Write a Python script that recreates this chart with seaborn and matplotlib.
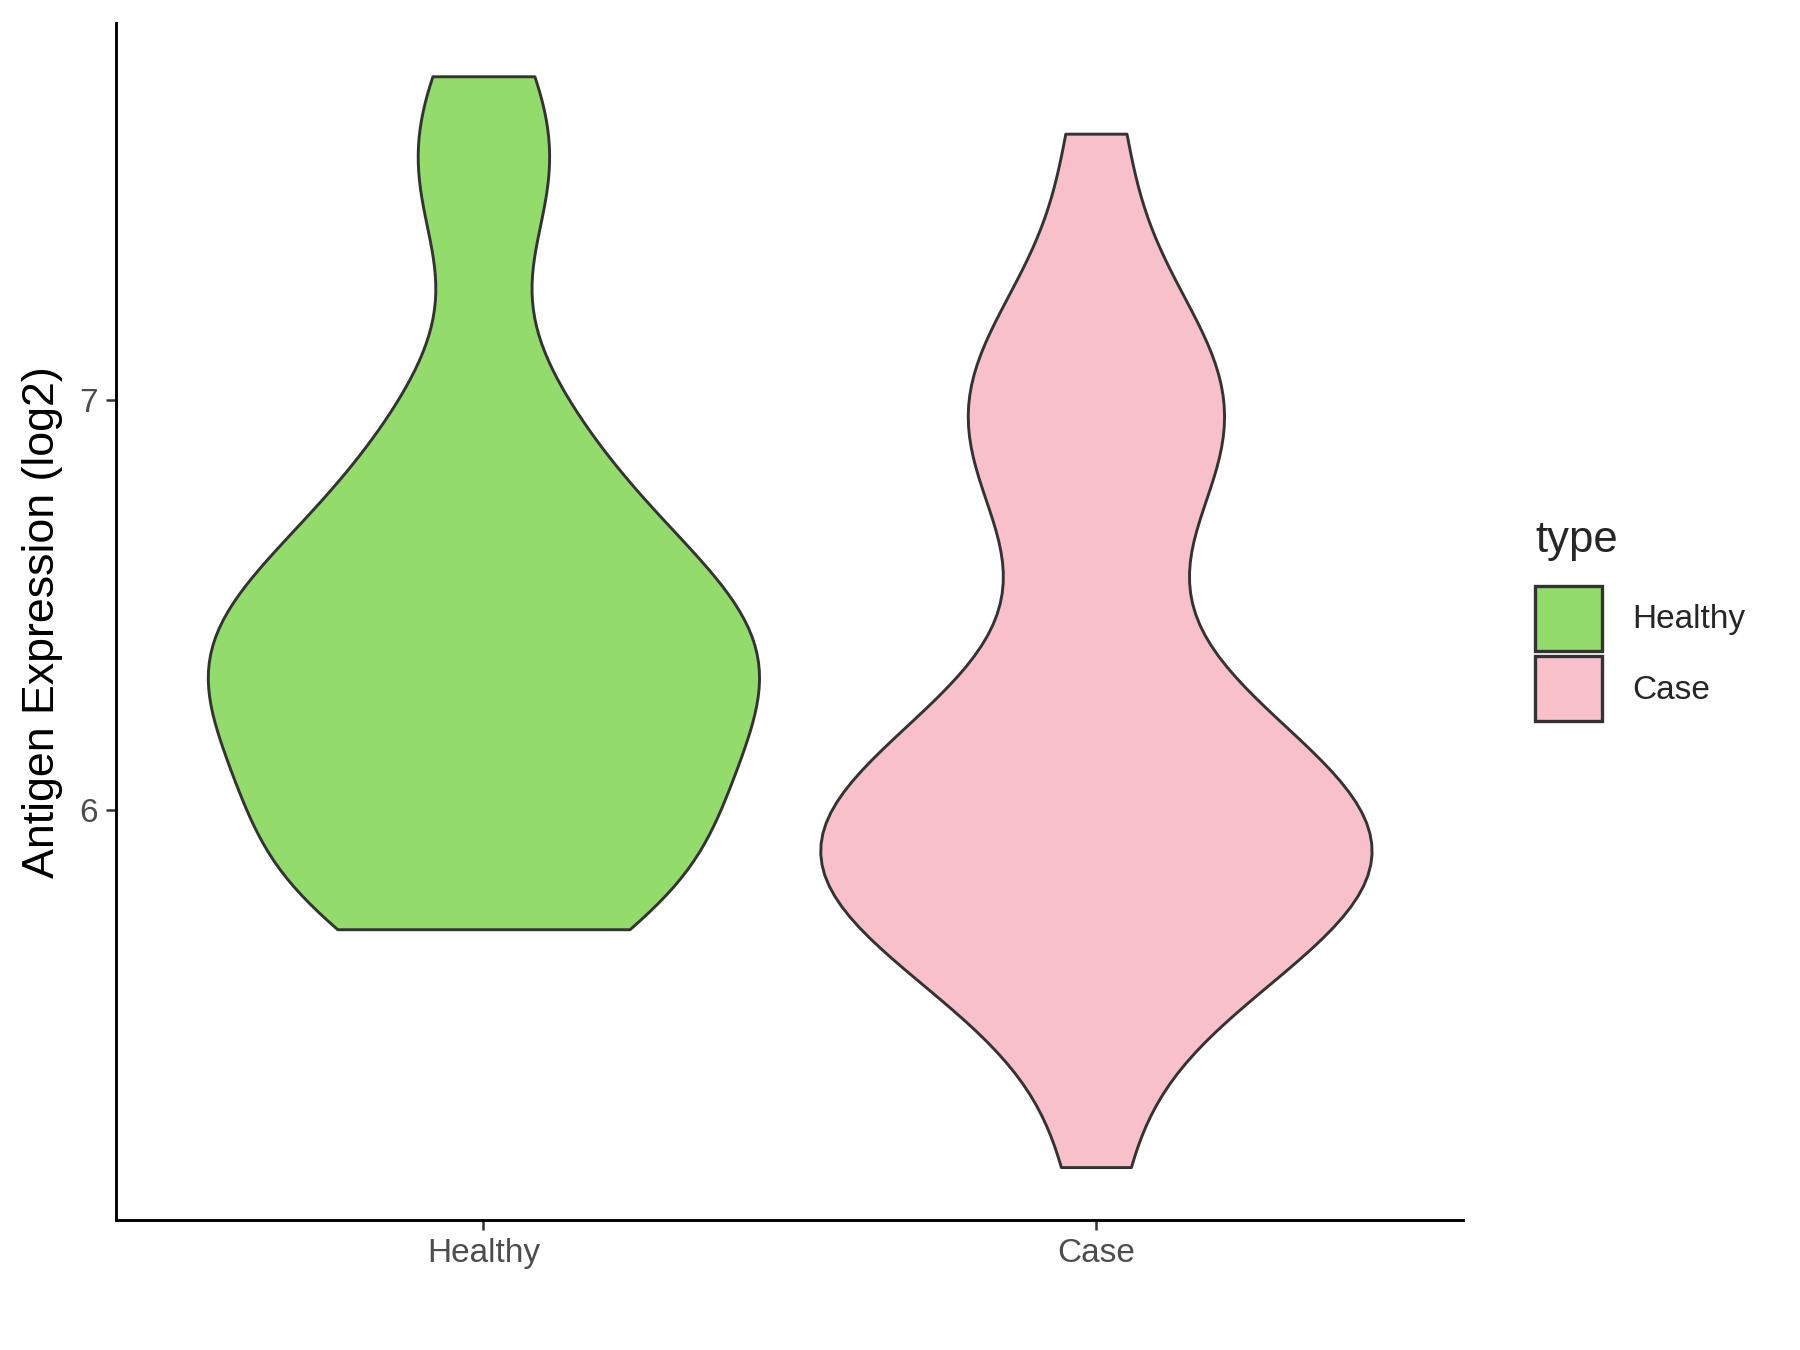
import numpy as np
import pandas as pd
import matplotlib
matplotlib.use("Agg")
import matplotlib.pyplot as plt
import seaborn as sns
from matplotlib.patches import Patch

# expression values (log2)
healthy_vals = [5.71, 5.74, 5.79, 5.85, 5.91, 5.97, 6.03, 6.09, 6.15, 6.20,
                6.25, 6.30, 6.34, 6.38, 6.42, 6.46, 6.51, 6.56, 6.62, 6.69,
                6.78, 6.90, 7.05, 7.45, 7.60, 7.79]
case_vals = [5.13, 5.48, 5.57, 5.64, 5.69, 5.73, 5.77, 5.81, 5.84, 5.87,
             5.91, 5.94, 5.97, 6.01, 6.05, 6.09, 6.13, 6.19, 6.26, 6.40,
             6.65, 6.78, 6.87, 6.94, 7.00, 7.07, 7.16, 7.29, 7.65]
groups = ["Healthy", "Case"]
colors = ["#93DB6A", "#F7C0CB"]

df = pd.DataFrame({
    "type": ["Healthy"] * len(healthy_vals) + ["Case"] * len(case_vals),
    "value": healthy_vals + case_vals,
})

sns.set_style("white")
plt.rcParams["font.family"] = ["Liberation Sans", "DejaVu Sans"]

fig = plt.figure(figsize=(12, 9), dpi=150)
ax = fig.add_axes([0.0644, 0.096, 0.7486, 0.887])

sns.violinplot(data=df, x="type", y="value", hue="type", order=groups,
               hue_order=groups, palette=colors, saturation=1, cut=0,
               density_norm="area", width=0.9, inner=None, linewidth=1.4,
               linecolor="#333333", bw_method=0.36, legend=False, ax=ax)

ax.set_xlim(-0.6, 1.6)
ax.set_ylim(5.0, 7.92)
ax.set_yticks([6, 7])
ax.set_xlabel("")
ax.set_ylabel("Antigen Expression (log2)", fontsize=21.5, labelpad=8,
              color="black")
for s in ["top", "right"]:
    ax.spines[s].set_visible(False)
for s in ["left", "bottom"]:
    ax.spines[s].set_color("black")
    ax.spines[s].set_linewidth(1.4)
ax.tick_params(axis="both", length=5, width=1.2, color="#333333",
               labelsize=16, labelcolor="#4D4D4D", direction="out",
               bottom=True, left=True)

handles = [Patch(facecolor=c, edgecolor="#333333", linewidth=1.6, label=g)
           for g, c in zip(groups, colors)]
leg = fig.legend(handles=handles, title="type", loc="upper left",
                 bbox_to_anchor=(0.853, 0.615), frameon=False,
                 fontsize=16, title_fontsize=21, handlelength=2.0,
                 handleheight=2.64, handletextpad=0.9, labelspacing=0.15,
                 borderaxespad=0, borderpad=0)
leg._legend_box.align = "left"
leg._legend_box.sep = 12

fig.savefig("out.png", dpi=150)
